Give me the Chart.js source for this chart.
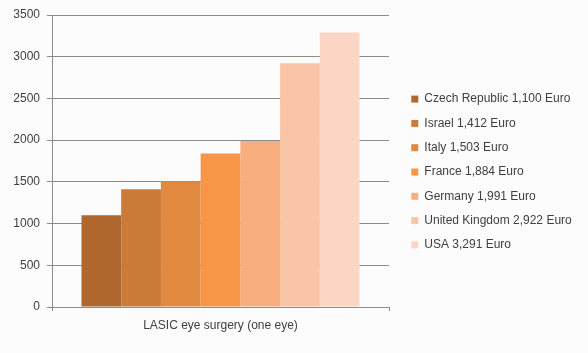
<!DOCTYPE html>
<html>
<head>
<meta charset="utf-8">
<script src="https://cdn.jsdelivr.net/npm/chart.js@4.4.1/dist/chart.umd.min.js"></script>
<style>
  html, body { margin: 0; padding: 0; background: #fcfcfc; }
  #wrap { width: 588px; height: 353px; }
</style>
</head>
<body>
<div id="wrap"><canvas id="lasic-chart"></canvas></div>
<script>
// data
const category = ['LASIC eye surgery (one eye)'];
const countries = ['Czech Republic 1,100 Euro', 'Israel 1,412 Euro', 'Italy 1,503 Euro',
    'France 1,884 Euro', 'Germany 1,991 Euro', 'United Kingdom 2,922 Euro', 'USA 3,291 Euro'];
const prices = [1100, 1412, 1503, 1840, 1991, 2922, 3291];
const colors = ['#b0682f', '#cc7a38', '#e0893f', '#f79646', '#f9ae80', '#fac4a7', '#fbd6c4'];
const yTicks = [0, 500, 1000, 1500, 2000, 2500, 3000, 3500];

const font = "'Liberation Sans', Arial, sans-serif";

const datasets = countries.map((name, i) => ({
    label: name,
    data: [prices[i]],
    backgroundColor: colors[i],
    borderWidth: 0,
    categoryPercentage: 0.825,
    barPercentage: 1.0
}));

// legend takes a fixed width and sits a bit off the plot, like the excel one
const legendPlacer = {
    id: 'legendPlacer',
    beforeInit(chart) {
        const legend = chart.legend;
        const fit = legend.fit;
        legend.fit = function () {
            fit.call(this);
            this.width = 199;
        };
    },
    afterLayout(chart) {
        const legend = chart.legend;
        legend.left += 10;
        legend.right += 10;
        legend.top -= 12;
        legend.bottom -= 12;
    }
};

const ctx = document.getElementById('lasic-chart').getContext('2d');
new Chart(ctx, {
    type: 'bar',
    data: { labels: category, datasets: datasets },
    plugins: [legendPlacer],
    options: {
        responsive: true,
        maintainAspectRatio: false,
        animation: false,
        layout: { padding: { top: 15, right: 0, bottom: 0, left: 0 } },
        plugins: {
            legend: {
                position: 'right',
                labels: {
                    boxWidth: 7,
                    boxHeight: 7,
                    padding: 12.3,
                    color: '#404040',
                    font: { family: font, size: 12 }
                }
            },
            tooltip: { enabled: false }
        },
        scales: {
            x: {
                grid: { display: true, drawOnChartArea: false, tickLength: 4, color: '#8c8c8c' },
                border: { color: '#8c8c8c' },
                ticks: { color: '#404040', padding: 7, font: { family: font, size: 12 } },
                afterFit: (scale) => { scale.height = 46; }
            },
            y: {
                min: 0,
                max: 3500,
                afterBuildTicks: (scale) => { scale.ticks = yTicks.map(v => ({ value: v })); },
                grid: { color: '#8c8c8c', tickLength: 5 },
                border: { color: '#8c8c8c' },
                ticks: {
                    color: '#404040',
                    padding: 7,
                    font: { family: font, size: 12 },
                    callback: (v) => String(v)
                },
                afterFit: (scale) => { scale.width = 52; }
            }
        }
    }
});
</script>
</body>
</html>
